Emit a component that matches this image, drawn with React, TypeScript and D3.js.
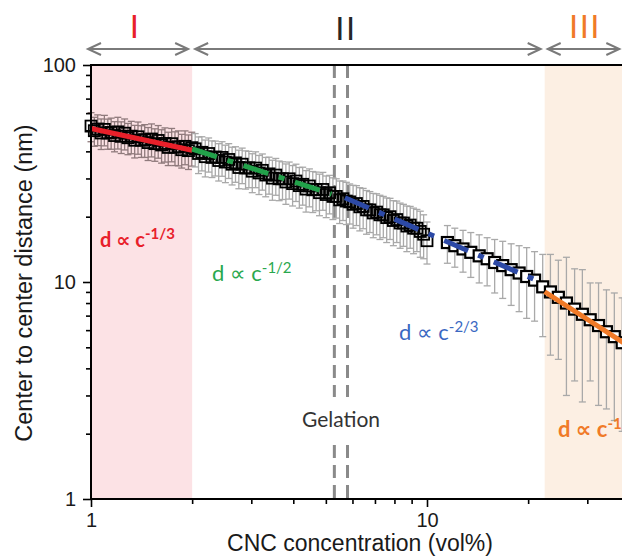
import React, { useRef, useEffect } from 'react';
import * as d3 from 'd3';

// dense SAXS series, 1 - 10 vol%
const denseConc = [
  1.000, 1.023, 1.047, 1.072, 1.096, 1.122, 1.148, 1.175, 1.202, 1.230,
  1.259, 1.288, 1.318, 1.349, 1.380, 1.413, 1.445, 1.479, 1.514, 1.549,
  1.585, 1.622, 1.660, 1.698, 1.738, 1.778, 1.820, 1.862, 1.905, 1.950,
  1.995, 2.042, 2.089, 2.138, 2.188, 2.239, 2.291, 2.344, 2.399, 2.455,
  2.512, 2.570, 2.630, 2.692, 2.754, 2.818, 2.884, 2.951, 3.020, 3.090,
  3.162, 3.236, 3.311, 3.388, 3.467, 3.548, 3.631, 3.715, 3.802, 3.890,
  3.981, 4.074, 4.169, 4.266, 4.365, 4.467, 4.571, 4.677, 4.786, 4.898,
  5.012, 5.129, 5.248, 5.370, 5.495, 5.623, 5.754, 5.888, 6.026, 6.166,
  6.310, 6.457, 6.607, 6.761, 6.918, 7.079, 7.244, 7.413, 7.586, 7.762,
  7.943, 8.128, 8.318, 8.511, 8.710, 8.913, 9.120, 9.333, 9.550, 9.772,
  10.00,
];
const denseDist = [
  52.3, 49.8, 50.7, 48.6, 50.5, 48.6, 48.9, 47.3, 49.2, 46.9,
  48.5, 46.2, 47.0, 45.0, 46.7, 45.0, 45.3, 43.9, 45.6, 43.4,
  44.9, 42.8, 43.5, 41.7, 43.4, 41.8, 42.0, 40.7, 42.2, 40.3,
  41.6, 41.1, 39.1, 39.6, 37.8, 39.1, 37.5, 37.7, 36.3, 37.5,
  35.7, 36.7, 34.9, 35.4, 33.7, 34.9, 33.5, 33.6, 32.4, 33.5,
  31.8, 32.7, 31.1, 31.5, 30.1, 31.1, 29.9, 29.9, 28.9, 29.9,
  28.4, 29.2, 27.8, 28.2, 26.8, 27.7, 26.6, 26.7, 25.8, 26.7,
  25.3, 25.8, 24.8, 24.8, 23.9, 24.2, 23.6, 23.4, 22.8, 23.0,
  22.2, 22.3, 21.5, 21.5, 20.8, 21.0, 20.4, 20.4, 19.8, 20.0,
  19.2, 19.4, 18.7, 18.7, 18.1, 18.3, 17.7, 17.7, 17.1, 16.6,
  15.5,
];
const denseErr = [
  8.0, 7.6, 8.2, 7.8, 8.1, 7.7, 8.0, 7.5, 8.2, 7.8,
  7.9, 7.6, 8.0, 7.7, 7.9, 7.5, 7.8, 7.6, 7.9, 7.4,
  7.7, 7.5, 7.8, 7.3, 7.6, 7.4, 7.7, 7.2, 7.5, 7.3,
  7.4, 7.2, 7.5, 7.1, 7.3, 7.0, 7.2, 6.9, 7.1, 6.8,
  7.0, 6.7, 6.9, 6.6, 6.8, 6.5, 6.7, 6.4, 6.6, 6.3,
  6.5, 6.2, 6.4, 6.1, 6.3, 6.0, 6.2, 5.9, 6.1, 5.8,
  6.0, 5.7, 5.9, 5.6, 5.8, 5.5, 5.7, 5.4, 5.6, 5.3,
  5.5, 5.2, 5.4, 5.1, 5.3, 5.0, 5.2, 4.9, 5.1, 4.8,
  5.0, 4.7, 4.9, 4.6, 4.8, 4.5, 4.7, 4.4, 4.6, 4.3,
  4.5, 4.2, 4.4, 4.1, 4.3, 4.0, 4.2, 3.9, 4.1, 3.8,
  3.4,
];

// sparse series above 10 vol%
const sparseConc = [11.5, 12.1, 12.8, 13.5, 14.3, 15.1, 15.9, 16.8, 17.8, 18.8, 19.8, 20.9, 22.1, 23.3, 24.6, 26.0, 27.5, 29.0, 30.6, 32.4, 34.2, 36.1, 38.1, 40.2];
const sparseDist = [15.2, 14.7, 14.2, 13.7, 13.2, 12.8, 12.3, 11.9, 11.4, 11.0, 10.6, 10.2, 9.5, 9.0, 8.5, 8.0, 7.5, 7.1, 6.7, 6.3, 5.9, 5.6, 5.25, 4.95];
const sparseErr = [3.0, 3.0, 3.1, 3.2, 3.3, 3.2, 3.4, 3.5, 3.6, 3.7, 3.8, 3.6, 3.9, 4.4, 4.1, 5.0, 4.0, 4.3, 3.2, 3.6, 3.3, 3.3, 3.2, 3.0];

// power law fits d = k * c^n
const fitStart = [1, 2, 5.7, 22.4];
const fitEnd = [2, 5.2, 22, 60];
const fitCoef = [51, 58, 78, 202];
const fitExp = [-1 / 3, -1 / 2, -2 / 3, -1];
const fitSup = ['-1/3', '-1/2', '-2/3', '-1'];
const fitColors = ['#e8202a', '#22a14a', '#2c49a6', '#f07a28'];
const labelColors = ['#e8202a', '#2aa84e', '#3a68c2', '#f07a28'];
const fitDashed = [false, true, true, false];
const fitBold = [true, false, false, true];

const regionNames = ['I', 'II', 'III'];
const regionColors = ['#e8202a', '#262626', '#f07a28'];
const regionStart = [1, 2, 22.4];
const regionEnd = [2, 22.4, 38.4];

const gelationConc = [5.3, 5.8];

const yMajor = [1, 10, 100];
const yMinor = [2, 3, 4, 5, 6, 7, 8, 9, 20, 30, 40, 50, 60, 70, 80, 90];
const xMajor = [1, 10];
const xMinor = [2, 3, 4, 5, 6, 7, 8, 9, 20, 30, 40, 50];

const App = () => {
  const svgRef = useRef<SVGSVGElement>(null);

  useEffect(() => {
    const width = 622;
    const height = 557;
    const margin = { top: 65, left: 91, bottom: 58 };
    const svg = d3.select(svgRef.current);
    svg.selectAll('*').remove();

    const x = d3.scaleLog().domain([1, 10]).range([margin.left, 427]);
    const y = d3.scaleLog().domain([1, 100]).range([height - margin.bottom, margin.top]);
    const y0 = y(1);
    const y1 = y(100);

    // shaded regimes
    svg.append('rect')
      .attr('x', x(1)).attr('y', y1)
      .attr('width', x(2) - x(1)).attr('height', y0 - y1)
      .attr('fill', '#fce2e5');
    svg.append('rect')
      .attr('x', x(22.4)).attr('y', y1)
      .attr('width', width - x(22.4)).attr('height', y0 - y1)
      .attr('fill', '#fcefe3');

    // gelation lines
    gelationConc.forEach(c => {
      svg.append('line')
        .attr('x1', x(c)).attr('x2', x(c))
        .attr('y1', y1).attr('y2', y0)
        .attr('stroke', '#8a8a8a').attr('stroke-width', 3)
        .attr('stroke-dasharray', '13 7');
    });
    svg.append('rect')
      .attr('x', x(5.3) - 8).attr('y', 397)
      .attr('width', x(5.8) - x(5.3) + 16).attr('height', 44)
      .attr('fill', '#fff');

    const dense = denseConc.map((c, i) => ({ c, d: denseDist[i], e: denseErr[i] }));
    const sparse = sparseConc.map((c, i) => ({ c, d: sparseDist[i], e: sparseErr[i] }));

    // error bars
    const bars = svg.append('g');
    [...dense, ...sparse].forEach(p => {
      const cx = x(p.c);
      const col = p.c <= 2 ? '#8f7a7c' : '#a9a9a9';
      const top = y(p.d + p.e);
      const bot = y(p.d - p.e);
      bars.append('line').attr('x1', cx).attr('x2', cx).attr('y1', top).attr('y2', bot)
        .attr('stroke', col).attr('stroke-width', 1.3);
      [top, bot].forEach(yy => {
        bars.append('line').attr('x1', cx - 3.5).attr('x2', cx + 3.5).attr('y1', yy).attr('y2', yy)
          .attr('stroke', col).attr('stroke-width', 1.3);
      });
    });

    // open squares
    svg.append('g').selectAll('rect')
      .data(dense)
      .enter()
      .append('rect')
      .attr('x', d => x(d.c) - 5.5)
      .attr('y', d => y(d.d) - 5.5)
      .attr('width', 11).attr('height', 11)
      .attr('fill', 'none')
      .attr('stroke', '#000')
      .attr('stroke-width', 1.8);
    svg.append('g').selectAll('rect')
      .data(sparse)
      .enter()
      .append('rect')
      .attr('x', d => x(d.c) - 5.5)
      .attr('y', d => y(d.d) - 5.5)
      .attr('width', 11).attr('height', 11)
      .attr('fill', '#fff')
      .attr('stroke', '#000')
      .attr('stroke-width', 2.2);

    // fit lines
    fitStart.forEach((s, i) => {
      const t = fitEnd[i];
      svg.append('line')
        .attr('x1', x(s)).attr('y1', y(fitCoef[i] * Math.pow(s, fitExp[i])))
        .attr('x2', x(t)).attr('y2', y(fitCoef[i] * Math.pow(t, fitExp[i])))
        .attr('stroke', fitColors[i])
        .attr('stroke-width', 5)
        .attr('stroke-dasharray', fitDashed[i] ? '26 11 6 11' : null);
    });

    // axes
    const axisFont = '"Liberation Sans", Arial, sans-serif';
    const yAxis = svg.append('g')
      .attr('transform', `translate(${margin.left},0)`)
      .call(d3.axisLeft(y).tickValues(yMajor).tickSize(8).tickPadding(7).tickFormat(d3.format('d')));
    svg.append('g')
      .attr('transform', `translate(${margin.left},0)`)
      .call(d3.axisLeft(y).tickValues(yMinor).tickSize(5).tickFormat(() => ''));
    const xAxis = svg.append('g')
      .attr('transform', `translate(0,${y0})`)
      .call(d3.axisBottom(x).tickValues(xMajor).tickSize(8).tickPadding(6).tickFormat(d3.format('d')));
    svg.append('g')
      .attr('transform', `translate(0,${y0})`)
      .call(d3.axisBottom(x).tickValues(xMinor).tickSize(5).tickFormat(() => ''));

    svg.selectAll('.domain').remove();
    svg.selectAll('.tick line').attr('stroke', '#000').attr('stroke-width', 1.6);
    [yAxis, xAxis].forEach(a => a.selectAll('text')
      .style('font-family', axisFont).style('font-size', '20px').attr('fill', '#1a1a1a'));

    svg.append('line').attr('x1', margin.left).attr('x2', margin.left).attr('y1', y1 - 1).attr('y2', y0 + 1)
      .attr('stroke', '#000').attr('stroke-width', 2);
    svg.append('line').attr('x1', margin.left).attr('x2', width).attr('y1', y0).attr('y2', y0)
      .attr('stroke', '#000').attr('stroke-width', 2);
    svg.append('line').attr('x1', margin.left).attr('x2', width).attr('y1', y1).attr('y2', y1)
      .attr('stroke', '#000').attr('stroke-width', 2);

    svg.append('text')
      .attr('x', 360).attr('y', 551)
      .attr('text-anchor', 'middle')
      .style('font-family', axisFont).style('font-size', '23px').attr('fill', '#1a1a1a')
      .text('CNC concentration (vol%)');
    svg.append('text')
      .attr('transform', 'translate(32,283) rotate(-90)')
      .attr('text-anchor', 'middle')
      .style('font-family', axisFont).style('font-size', '23.5px').attr('fill', '#1a1a1a')
      .text('Center to center distance (nm)');

    // regime arrows
    const arrowY = 49;
    const chevron = (tx: number, dir: number) => {
      svg.append('path')
        .attr('d', `M${tx - dir * 13},${arrowY - 6}L${tx},${arrowY}L${tx - dir * 13},${arrowY + 6}`)
        .attr('fill', 'none').attr('stroke', '#7a7a7a').attr('stroke-width', 2);
    };
    regionStart.forEach((s, i) => {
      const a = x(s) + (i === 0 ? -3 : 3);
      const b = x(regionEnd[i]) - 4;
      svg.append('line').attr('x1', a).attr('x2', b).attr('y1', arrowY).attr('y2', arrowY)
        .attr('stroke', '#7a7a7a').attr('stroke-width', 2);
      chevron(a, -1);
      chevron(b, 1);
    });
    const numeralX = [135, 346, 585];
    const numeralY = [38, 40, 38];
    regionNames.forEach((n, i) => {
      svg.append('text')
        .attr('x', numeralX[i]).attr('y', numeralY[i])
        .attr('text-anchor', 'middle')
        .style('font-family', axisFont).style('font-size', '33px')
        .style('letter-spacing', '1.5px')
        .attr('fill', regionColors[i])
        .text(n);
    });

    // scaling labels
    const labelFont = 'Lato, "Open Sans", sans-serif';
    const labelX = [100, 212, 399, 558];
    const labelY = [247, 281, 340, 437];
    fitSup.forEach((sup, i) => {
      const t = svg.append('text')
        .attr('x', labelX[i]).attr('y', labelY[i])
        .style('font-family', labelFont)
        .style('font-size', i === 0 ? '20px' : '22px')
        .style('font-weight', fitBold[i] ? 700 : 400)
        .attr('fill', labelColors[i]);
      t.append('tspan').text('d ');
      t.append('tspan').style('font-family', '"DejaVu Sans", sans-serif').text('\u221D');
      t.append('tspan').text(' c');
      t.append('tspan').attr('dy', -8).style('font-size', '15px').text(sup);
    });

    svg.append('text')
      .attr('x', 341).attr('y', 427)
      .attr('text-anchor', 'middle')
      .style('font-family', labelFont).style('font-size', '21px')
      .attr('fill', '#333')
      .text('Gelation');
  }, []);

  return (
    <svg
      ref={svgRef}
      width={622}
      height={557}
      style={{ position: 'absolute', left: 0, top: 0, background: '#fff', display: 'block' }}
    />
  );
};

export default App;
